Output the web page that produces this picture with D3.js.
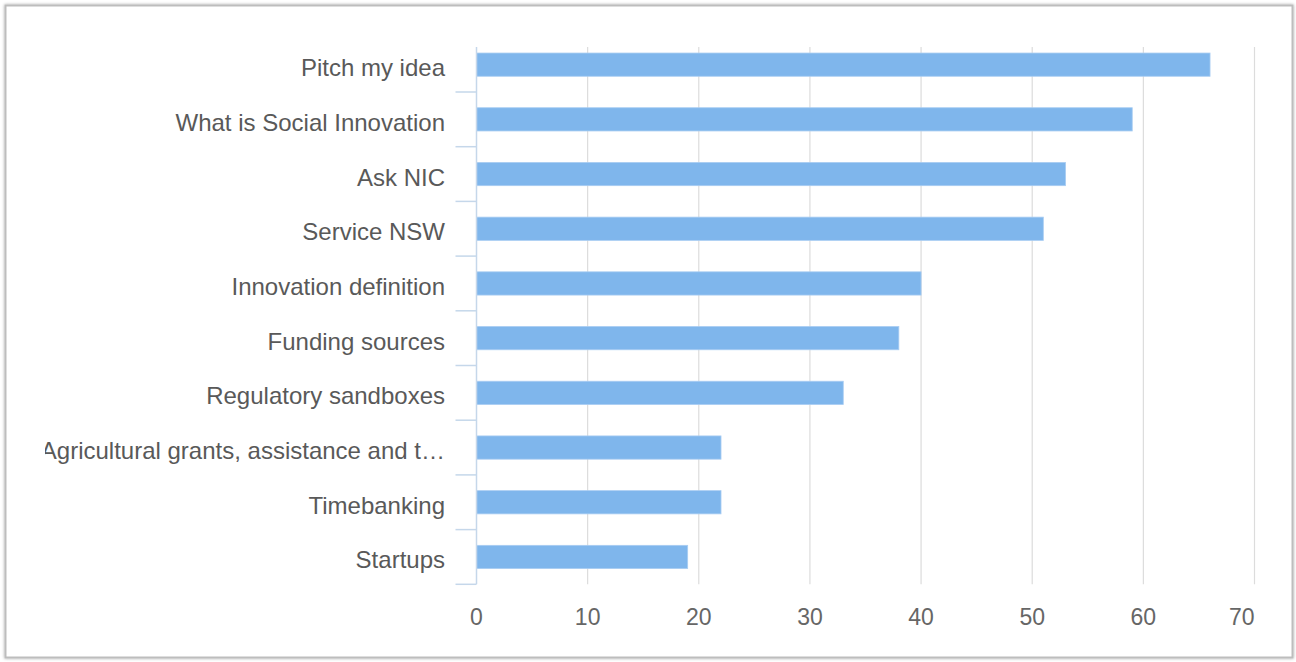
<!DOCTYPE html>
<html>
<head>
<meta charset="utf-8">
<script src="https://cdn.jsdelivr.net/npm/d3@7"></script>
<style>
  html, body { margin: 0; padding: 0; background: #fff; }
  svg { display: block; font-family: "Liberation Sans", Arial, sans-serif; }
</style>
</head>
<body>
<script>
var width = 1296, height = 662;

var categories = ["Pitch my idea", "What is Social Innovation", "Ask NIC", "Service NSW",
  "Innovation definition", "Funding sources", "Regulatory sandboxes",
  "Agricultural grants, assistance and t\u2026", "Timebanking", "Startups"];
var values = [66, 59, 53, 51, 40, 38, 33, 22, 22, 19];
var tickValues = [0, 10, 20, 30, 40, 50, 60, 70];

var svg = d3.select("body")
  .append("svg")
  .attr("width", width)
  .attr("height", height);

// soft frame shadow
var defs = svg.append("defs");
var f = defs.append("filter").attr("id", "shadow")
  .attr("x", "-2%").attr("y", "-2%").attr("width", "104%").attr("height", "104%");
f.append("feGaussianBlur").attr("in", "SourceAlpha").attr("stdDeviation", 1.8).attr("result", "blur");
f.append("feFlood").attr("flood-color", "#000").attr("flood-opacity", 0.35);
f.append("feComposite").attr("in2", "blur").attr("operator", "in");
var m = f.append("feMerge");
m.append("feMergeNode");
m.append("feMergeNode").attr("in", "SourceGraphic");

defs.append("clipPath").attr("id", "labelClip")
  .append("rect").attr("x", 45).attr("y", 0).attr("width", 420).attr("height", height);

svg.append("rect")
  .attr("x", 5.5).attr("y", 5.5)
  .attr("width", 1287).attr("height", 652)
  .attr("fill", "#fff")
  .attr("stroke", "#bdbdbd")
  .attr("stroke-width", 2)
  .attr("filter", "url(#shadow)");

var x = d3.scaleLinear().domain([0, 70]).range([476.5, 1254.5]);
var y = d3.scaleBand().domain(categories).range([37.3, 584.3])
  .paddingInner(0.575).paddingOuter(0.2875);

var plotTop = 47, plotBottom = 584.3;

// gridlines
svg.append("g")
  .selectAll("line")
  .data(tickValues.slice(1))
  .enter()
  .append("line")
  .attr("x1", d => x(d)).attr("x2", d => x(d))
  .attr("y1", plotTop).attr("y2", plotBottom)
  .attr("stroke", "#dcdcdc")
  .attr("stroke-width", 1.2);

// bars
svg.append("g")
  .selectAll("rect")
  .data(values)
  .enter()
  .append("rect")
  .attr("x", x(0))
  .attr("y", (d, i) => y(categories[i]))
  .attr("width", d => x(d) - x(0))
  .attr("height", y.bandwidth())
  .attr("fill", "#7fb6ec")
  .attr("stroke", "#a9cdf2")
  .attr("stroke-width", 0.8);

// category axis
var step = y.step();
var axisColor = "#c5d7ea";
svg.append("line")
  .attr("x1", x(0)).attr("x2", x(0))
  .attr("y1", plotTop).attr("y2", plotBottom)
  .attr("stroke", axisColor).attr("stroke-width", 1.5);

svg.append("g")
  .selectAll("line")
  .data(categories)
  .enter()
  .append("line")
  .attr("x1", x(0) - 21).attr("x2", x(0))
  .attr("y1", (d, i) => 37.3 + (i + 1) * step)
  .attr("y2", (d, i) => 37.3 + (i + 1) * step)
  .attr("stroke", axisColor).attr("stroke-width", 1.5);

svg.append("g")
  .attr("clip-path", "url(#labelClip)")
  .selectAll("text")
  .data(categories)
  .enter()
  .append("text")
  .attr("x", 445)
  .attr("y", d => y(d) + y.bandwidth() / 2 + 11.5)
  .attr("text-anchor", "end")
  .attr("font-size", 24)
  .attr("fill", "#595959")
  .text(d => d);

// value axis labels
svg.append("g")
  .selectAll("text")
  .data(tickValues)
  .enter()
  .append("text")
  .attr("x", d => x(d))
  .attr("y", 625)
  .attr("text-anchor", (d, i) => i === tickValues.length - 1 ? "end" : "middle")
  .attr("font-size", 23)
  .attr("fill", "#666")
  .text(d => d);
</script>
</body>
</html>
